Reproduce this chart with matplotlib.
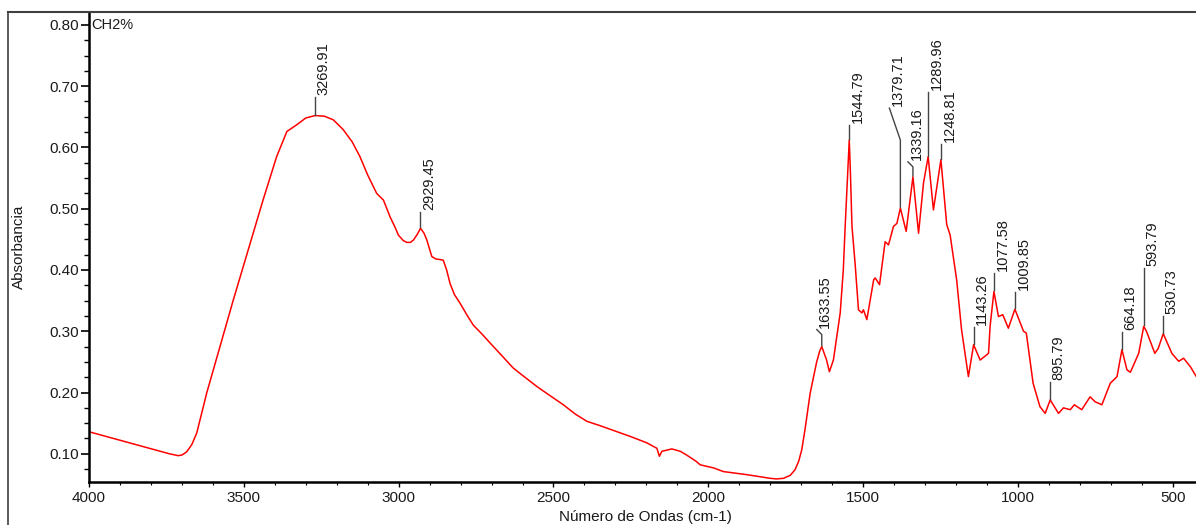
import numpy as np
import matplotlib
matplotlib.use("Agg")
import matplotlib.pyplot as plt
from matplotlib.lines import Line2D
from matplotlib.ticker import MultipleLocator, AutoMinorLocator, FormatStrFormatter

plt.rcParams["font.family"] = ["Liberation Sans", "DejaVu Sans"]

# spectrum (wavenumber cm-1, absorbance)
wavenumber = [4000, 3740, 3722, 3712, 3700, 3685, 3668, 3652, 3620, 3577, 3534, 3438, 3394,
              3361, 3329, 3300, 3269.91, 3240, 3211, 3179, 3150, 3125, 3100, 3071, 3049,
              3028, 3010, 3001, 2985, 2974, 2962, 2952, 2940, 2929.45, 2918, 2909, 2893,
              2880, 2866, 2856, 2845, 2834, 2820, 2802, 2780, 2759, 2730, 2705, 2670, 2630,
              2600, 2554, 2520, 2468, 2430, 2392, 2350, 2306, 2250, 2199, 2166, 2158, 2150,
              2118, 2090, 2070, 2040, 2026, 1983, 1951, 1876, 1800, 1780, 1757, 1735, 1720,
              1708, 1698, 1687, 1671, 1662, 1650, 1640, 1633.55, 1618, 1609, 1596, 1574,
              1564, 1558, 1549, 1544.79, 1541, 1536, 1526, 1515, 1504, 1499, 1488, 1466,
              1461, 1447, 1429, 1418, 1402, 1391, 1379.71, 1361, 1339.16, 1321, 1305,
              1289.96, 1273, 1248.81, 1230, 1219, 1198, 1182, 1160, 1143.26, 1122, 1095,
              1090, 1077.58, 1063, 1049, 1031, 1009.85, 982, 973, 951, 929, 912, 895.79,
              869, 853, 831, 818, 794, 767, 751, 729, 702, 680, 664.18, 648, 637, 610,
              593.79, 585, 558, 547, 530.73, 503, 481, 465, 443, 424]
absorbance = [0.136, 0.100, 0.098, 0.097, 0.098, 0.103, 0.115, 0.134, 0.199, 0.275, 0.351,
              0.514, 0.585, 0.626, 0.637, 0.648, 0.652, 0.651, 0.645, 0.629, 0.609, 0.585,
              0.555, 0.525, 0.514, 0.487, 0.468, 0.457, 0.448, 0.445, 0.445, 0.449, 0.458,
              0.468, 0.460, 0.449, 0.422, 0.418, 0.417, 0.416, 0.400, 0.378, 0.360, 0.346,
              0.327, 0.310, 0.295, 0.281, 0.262, 0.240, 0.228, 0.210, 0.198, 0.180, 0.165,
              0.153, 0.146, 0.138, 0.128, 0.118, 0.109, 0.096, 0.104, 0.108, 0.104, 0.098,
              0.088, 0.082, 0.077, 0.071, 0.066, 0.060, 0.059, 0.060, 0.065, 0.074, 0.088,
              0.107, 0.142, 0.199, 0.221, 0.250, 0.268, 0.275, 0.253, 0.234, 0.253, 0.330,
              0.400, 0.471, 0.569, 0.612, 0.558, 0.471, 0.411, 0.335, 0.330, 0.335, 0.319,
              0.384, 0.387, 0.376, 0.446, 0.441, 0.471, 0.476, 0.501, 0.463, 0.552, 0.460,
              0.542, 0.585, 0.498, 0.580, 0.474, 0.457, 0.384, 0.302, 0.226, 0.278, 0.253,
              0.264, 0.308, 0.365, 0.324, 0.327, 0.305, 0.336, 0.300, 0.297, 0.215, 0.177,
              0.166, 0.188, 0.166, 0.175, 0.172, 0.180, 0.172, 0.193, 0.185, 0.180, 0.215,
              0.226, 0.270, 0.237, 0.233, 0.264, 0.308, 0.300, 0.264, 0.272, 0.296, 0.264,
              0.251, 0.256, 0.242, 0.226]

peaks = [3269.91, 2929.45, 1633.55, 1544.79, 1379.71, 1339.16, 1289.96, 1248.81,
         1143.26, 1077.58, 1009.85, 895.79, 664.18, 593.79, 530.73]

# leader shapes in pixels: (vertical length, extra rise of bent part, leftward shift)
leaders = {3269.91: (19, 0, 0), 2929.45: (16, 0, 0), 1633.55: (12, 5, 5),
           1544.79: (15, 0, 0), 1379.71: (68, 32, 11), 1339.16: (10, 5, 5),
           1289.96: (65, 0, 0), 1248.81: (16, 0, 0), 1143.26: (18, 0, 0),
           1077.58: (18, 0, 0), 1009.85: (17, 0, 0), 895.79: (18, 0, 0),
           664.18: (18, 0, 0), 593.79: (58, 0, 0), 530.73: (18, 0, 0)}

W, H = 1196, 525
fig = plt.figure(figsize=(W / 100, H / 100), dpi=100)
ax = fig.add_axes([89 / W, 1 - 482 / H, (W - 89) / W, 470 / H])

ax.plot(wavenumber, absorbance, color="#ff0000", lw=1.1, solid_joinstyle="round")
ax.set_xlim(4000, 425)
ax.set_ylim(0.054, 0.821)

ax.xaxis.set_major_locator(MultipleLocator(500))
ax.xaxis.set_minor_locator(AutoMinorLocator(5))
ax.yaxis.set_major_locator(MultipleLocator(0.1))
ax.yaxis.set_minor_locator(AutoMinorLocator(4))
ax.yaxis.set_major_formatter(FormatStrFormatter("%.2f"))
ax.tick_params(axis="y", which="major", length=6, width=1.2, pad=1, labelsize=11,
               labelcolor="#1a1a1a")
ax.tick_params(axis="y", which="minor", length=3.5, width=1.0)
ax.tick_params(axis="x", which="major", length=3.5, width=1.0, pad=3, labelsize=11,
               labelcolor="#1a1a1a")
ax.tick_params(axis="x", which="minor", length=2, width=0.8)
for s in ("top", "right"):
    ax.spines[s].set_visible(False)
for s in ("left", "bottom"):
    ax.spines[s].set_linewidth(1.8)

# peak labels with leader lines
for pk in peaks:
    a = np.interp(pk, wavenumber[::-1], absorbance[::-1])
    x0, y0 = ax.transData.transform((pk, a))
    vert, rise, shift = leaders[pk]
    pts = [(x0, y0 + 1), (x0, y0 + vert)]
    if rise:
        pts.append((x0 - shift, y0 + vert + rise))
    dpts = ax.transData.inverted().transform(pts)
    ax.plot(dpts[:, 0], dpts[:, 1], color="#444444", lw=1.0, clip_on=False)
    tx, ty = ax.transData.inverted().transform((pts[-1][0] + 1.5, pts[-1][1] + 2))
    ax.text(tx, ty, f"{pk:.2f}", rotation=90, rotation_mode="anchor", ha="left",
            va="top", fontsize=10.5, color="#1a1a1a", clip_on=False)

ax.text(0.002, 0.80, "CH2%", transform=ax.get_yaxis_transform(), fontsize=10.5,
        color="#1a1a1a", ha="left", va="center")

fig.text(645 / W, 1 - 517 / H, "Número de Ondas (cm-1)", ha="center", va="center",
         fontsize=11, color="#1a1a1a")
fig.text(19 / W, 1 - 247 / H, "Absorbancia", rotation=90, ha="center", va="center",
         fontsize=11, color="#1a1a1a")

# outer frame
fig.add_artist(Line2D([8 / W, 1], [1 - 12 / H, 1 - 12 / H], transform=fig.transFigure,
                      color="#404040", lw=1.5))
fig.add_artist(Line2D([8 / W, 8 / W], [0, 1 - 12 / H], transform=fig.transFigure,
                      color="#404040", lw=1.2))

fig.savefig("out.png", dpi=100, facecolor="white")
